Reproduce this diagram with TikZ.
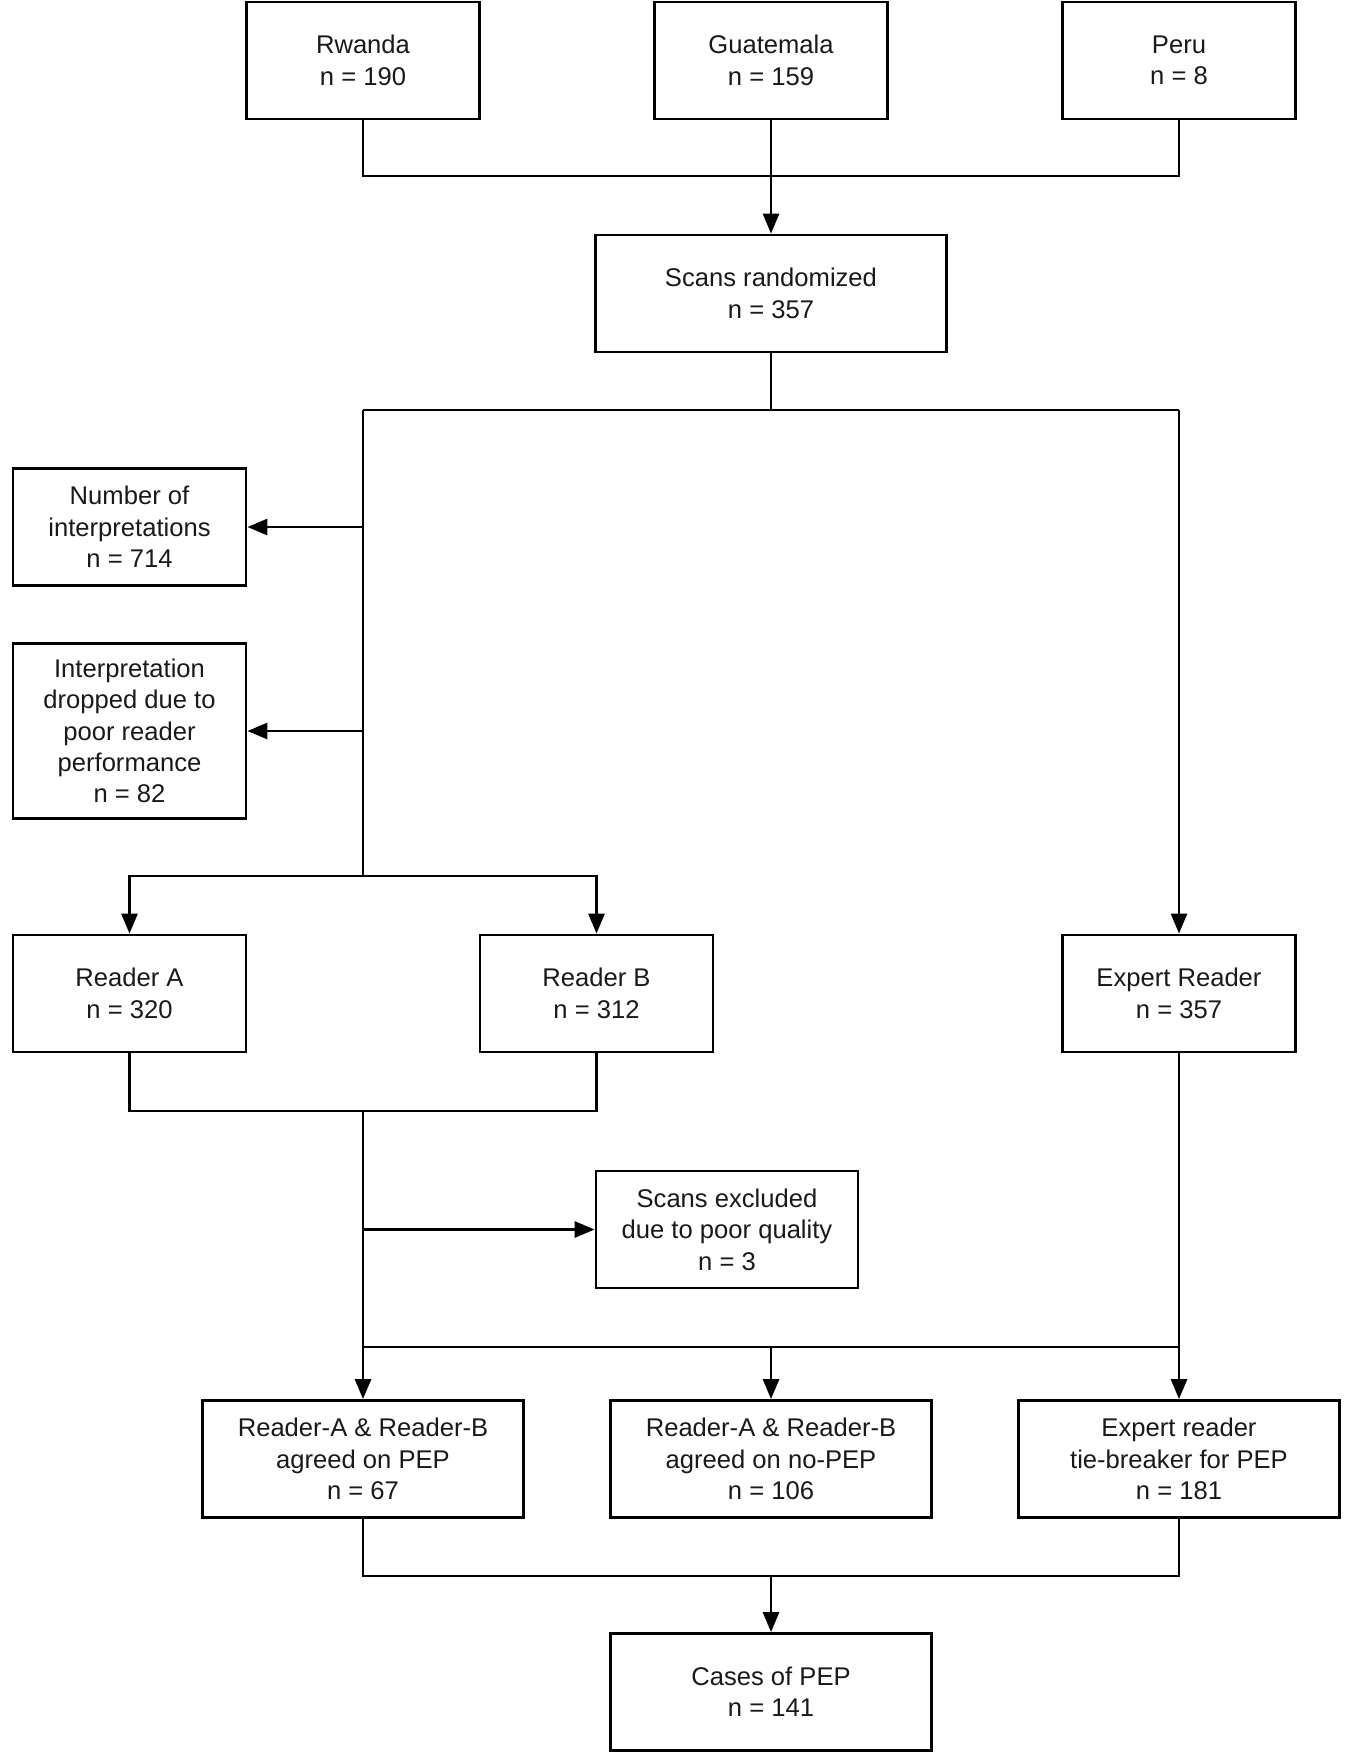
\documentclass[tikz,border=0pt]{standalone}
\usepackage{fontspec}
\setmainfont{Liberation Sans}
\usetikzlibrary{arrows.meta}
\begin{document}
\begin{tikzpicture}[x=0.5pt,y=-0.5pt,
  box/.style={draw, line width=1.4pt, inner sep=0pt, align=center,
    font=\fontsize{12.8}{15.7}\selectfont, text=black!90,
    minimum width=116.5pt, minimum height=58.5pt},
  conn/.style={line width=1.4pt},
  arr/.style={conn, -{Triangle[length=10pt,width=8pt]}}]
\useasboundingbox (0,0) rectangle (1350,1757);
% nodes
\node[box] (rwanda) at (363,60.5) {Rwanda\\n = 190};
\node[box] (guat) at (771,60.5) {Guatemala\\n = 159};
\node[box] (peru) at (1179,60.5) {Peru\\n = 8};
\node[box, minimum width=175.5pt] (scans) at (771,293.5) {Scans randomized\\n = 357};
\node[box] (numint) at (129.5,527) {Number of\\interpretations\\n = 714};
\node[box, minimum height=87.5pt] (dropped) at (129.5,731) {Interpretation\\dropped due to\\poor reader\\performance\\n = 82};
\node[box] (readerA) at (129.5,993.5) {Reader A\\n = 320};
\node[box] (readerB) at (596.5,993.5) {Reader B\\n = 312};
\node[box] (expert) at (1179,993.5) {Expert Reader\\n = 357};
\node[box, minimum width=131pt] (excluded) at (727,1229.5) {Scans excluded\\due to poor quality\\n = 3};
\node[box, minimum width=160.5pt] (agreePEP) at (363,1459) {Reader-A \& Reader-B\\agreed on PEP\\n = 67};
\node[box, minimum width=160.5pt] (agreeNo) at (771,1459) {Reader-A \& Reader-B\\agreed on no-PEP\\n = 106};
\node[box, minimum width=160.5pt] (tie) at (1179,1459) {Expert reader\\tie-breaker for PEP\\n = 181};
\node[box, minimum width=160.5pt] (cases) at (771,1692) {Cases of PEP\\n = 141};
% junction coordinates
\coordinate (j1) at (771,176);
\coordinate (j2) at (771,410);
\coordinate (jL) at (363,410);
\coordinate (jR) at (1179,410);
\coordinate (t1) at (363,527);
\coordinate (t2) at (363,731);
\coordinate (jA) at (363,876);
\coordinate (jB) at (363,1111);
\coordinate (t3) at (363,1229.5);
\coordinate (jC) at (363,1347);
\coordinate (t4) at (771,1347);
\coordinate (jD) at (1179,1347);
\coordinate (jE) at (771,1576);
% connectors
\draw[conn] (rwanda.south) |- (j1) -| (peru.south);
\draw[arr] (guat.south) -- (scans.north);
\draw[conn] (scans.south) -- (j2);
\draw[conn] (jL) -- (jR);
\draw[arr] (jR) -- (expert.north);
\draw[conn] (jL) -- (jA);
\draw[arr] (t1) -- (numint.east);
\draw[arr] (t2) -- (dropped.east);
\draw[arr] (jA) -| (readerA.north);
\draw[arr] (jA) -| (readerB.north);
\draw[conn] (readerA.south) |- (jB) -| (readerB.south);
\draw[arr] (jB) -- (agreePEP.north);
\draw[arr] (t3) -- (excluded.west);
\draw[conn] (jC) -- (jD);
\draw[arr] (t4) -- (agreeNo.north);
\draw[arr] (expert.south) -- (tie.north);
\draw[conn] (agreePEP.south) |- (jE) -| (tie.south);
\draw[arr] (jE) -- (cases.north);
\end{tikzpicture}
\end{document}
